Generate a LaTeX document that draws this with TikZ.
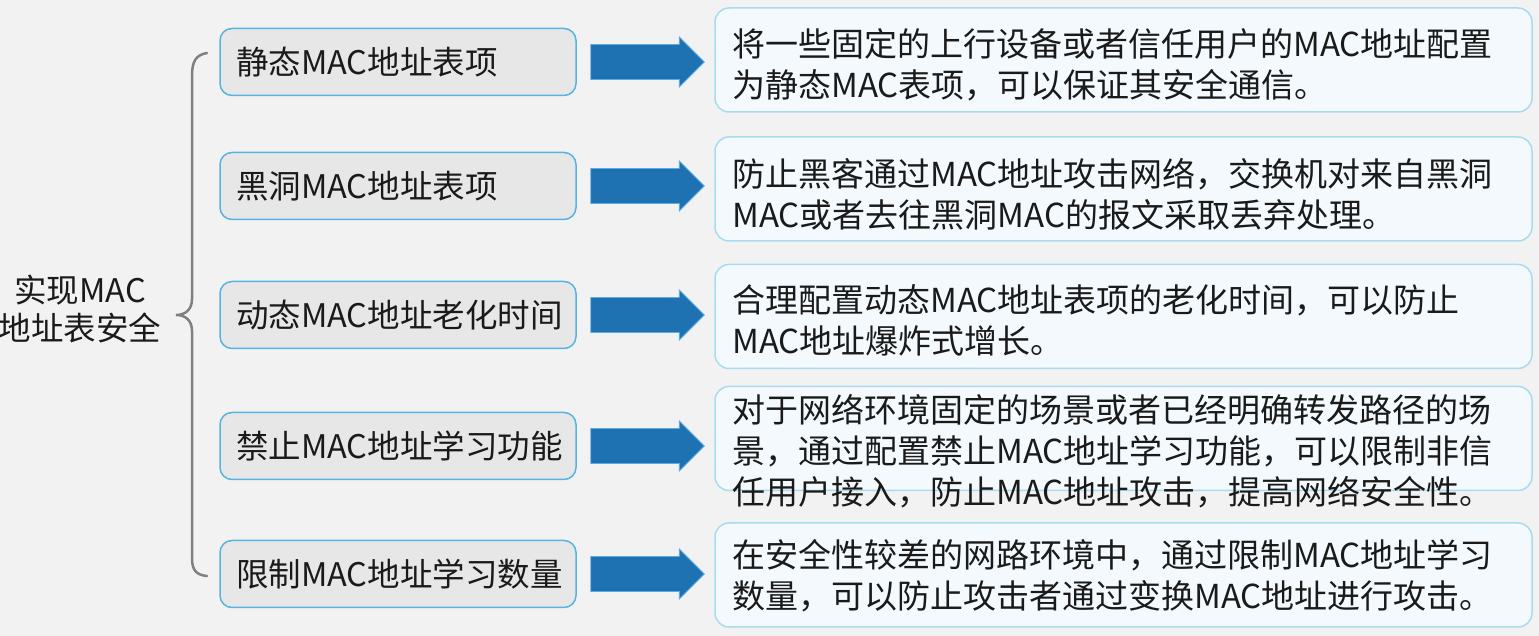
\documentclass[tikz,border=0pt]{standalone}
\usepackage{fontspec}
\setmainfont{Noto Sans CJK SC}
\usetikzlibrary{calc}
\definecolor{bg}{HTML}{F2F2F2}
\definecolor{lfill}{HTML}{E7E7E7}
\definecolor{lborder}{HTML}{55B4E0}
\definecolor{rfill}{HTML}{F3F9FD}
\definecolor{rborder}{HTML}{A9DBF0}
\definecolor{arrfill}{HTML}{1F72B2}
\definecolor{arredge}{HTML}{5AACE2}
\definecolor{bracec}{HTML}{808080}
\definecolor{txt}{HTML}{1A1A1A}
\tikzset{
  leftbox/.style={draw=lborder, line width=1.5pt, fill=lfill, rounded corners=12pt,
    text width=324pt, align=left, inner xsep=16pt, inner ysep=0pt,
    minimum height=67pt, text=txt,
    font=\fontsize{32.5}{36}\selectfont},
  rightbox/.style={draw=rborder, line width=1.5pt, fill=rfill, rounded corners=14pt,
    minimum width=817pt, minimum height=104pt, inner sep=0pt},
  righttext/.style={anchor=west, inner sep=0pt, align=left, text=txt,
    font=\fontsize{33}{41}\selectfont},
  roottext/.style={inner sep=0pt, align=center, text=txt,
    font=\fontsize{32.5}{38}\selectfont},
  bigarrow/.style={fill=arrfill, draw=arredge, line width=0.8pt, line join=miter},
  bracestyle/.style={draw=bracec, line width=2.5pt, line cap=round}
}
\begin{document}
\begin{tikzpicture}[x=1pt,y=1pt]
\fill[bg] (0,0) rectangle (1539,636);
\useasboundingbox (0,0) rectangle (1539,636);

% root
\node[roottext] (root) at (80,327) {实现MAC\\地址表安全};

% brace
\draw[bracestyle] (207,583) .. controls (196,581) and (192,575) .. (192,560)
  -- (192,337) .. controls (192,327) and (186,321) .. (176,321)
  .. controls (186,321) and (192,315) .. (192,305)
  -- (192,78) .. controls (192,66) and (196,61) .. (207,60);

% left boxes
\node[leftbox] (l1) at (398,574) {静态MAC地址表项};
\node[leftbox] (l2) at (398,450) {黑洞MAC地址表项};
\node[leftbox] (l3) at (398,321) {动态MAC地址老化时间};
\node[leftbox] (l4) at (398,190) {禁止MAC地址学习功能};
\node[leftbox] (l5) at (398,62) {限制MAC地址学习数量};

% right boxes
\node[rightbox] (r1) at (1123.5,576) {};
\node[rightbox] (r2) at (1123.5,447) {};
\node[rightbox] (r3) at (1123.5,319.5) {};
\node[rightbox] (r4) at (1123.5,197.5) {};
\node[rightbox] (r5) at (1123.5,61) {};

\node[righttext] (t1) at (732,571) {将一些固定的上行设备或者信任用户的MAC地址配置\\为静态MAC表项，可以保证其安全通信。};
\node[righttext] (t2) at (732,442) {防止黑客通过MAC地址攻击网络，交换机对来自黑洞\\MAC或者去往黑洞MAC的报文采取丢弃处理。};
\node[righttext] (t3) at (732,316) {合理配置动态MAC地址表项的老化时间，可以防止\\MAC地址爆炸式增长。};
\node[righttext] (t4) at (732,185) {对于网络环境固定的场景或者已经明确转发路径的场\\景，通过配置禁止MAC地址学习功能，可以限制非信\\任用户接入，防止MAC地址攻击，提高网络安全性。};
\node[righttext] (t5) at (732,60) {在安全性较差的网路环境中，通过限制MAC地址学习\\数量，可以防止攻击者通过变换MAC地址进行攻击。};

% arrows
\foreach \i in {1,...,5}{
  \path let \p1=($(l\i.east)+(14,0)$), \p2=($(r\i.west)+(-10,0)$) in
    [bigarrow] (\x1,\y1+17.5) -- (\x2-25,\y1+17.5) -- (\x2-25,\y1+25)
    -- (\x2,\y1) -- (\x2-25,\y1-25) -- (\x2-25,\y1-17.5) -- (\x1,\y1-17.5) -- cycle;
}
\end{tikzpicture}
\end{document}
